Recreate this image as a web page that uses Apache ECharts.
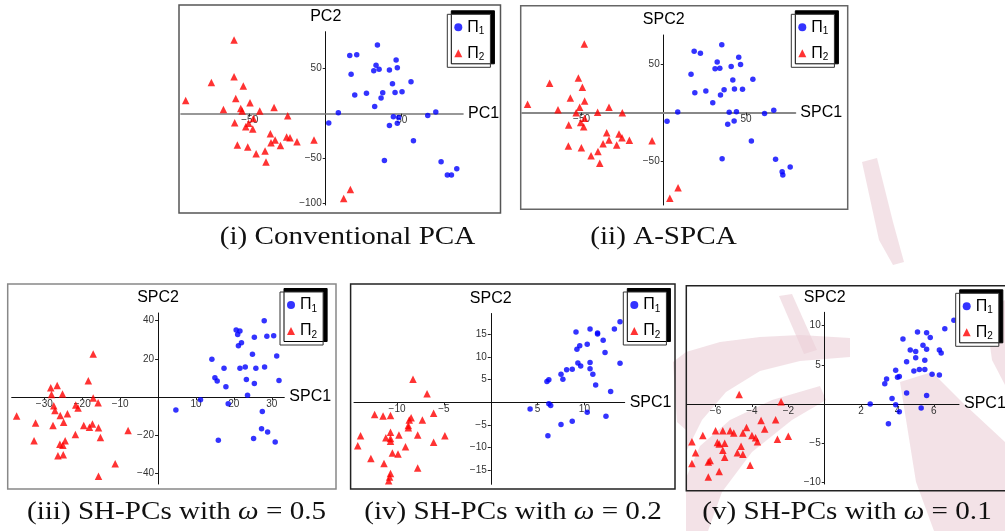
<!DOCTYPE html>
<html>
<head>
<meta charset="utf-8">
<script src="https://cdn.jsdelivr.net/npm/echarts@6/dist/echarts.min.js"></script>
<style>
  html, body { margin: 0; padding: 0; background: #fff; }
  #main { width: 1005px; height: 531px; }
</style>
</head>
<body>
<div id="main"></div>
<script>
// (i) conventional PCA
var pcaBlue = [[34.0,76.3],[15.8,64.8],[20.4,65.6],[46.3,59.6],[33.1,53.7],[35.1,49.3],[31.6,47.8],[41.9,48.5],[47.1,51.1],[16.7,43.7],[43.9,33.3],[56.1,35.6],[26.8,22.6],[19.1,20.7],[37.5,23.3],[36.4,17.4],[45.6,23.7],[50.2,24.4],[32.2,8.1],[8.3,1.1],[2.0,-10.4],[44.5,-3.3],[48.0,-4.1],[41.9,-13.0],[47.1,-10.7],[67.1,-1.9],[72.4,1.9],[57.7,-30.0],[38.6,-51.9],[75.9,-53.3],[86.2,-61.1],[80.0,-68.1],[82.7,-68.1]];
var pcaRed = [[-60.3,81.9],[-75.2,34.8],[-60.3,41.1],[-54.2,30.7],[-92.1,14.8],[-59.2,17.0],[-67.3,4.8],[-55.9,5.9],[-55.0,3.0],[-49.8,12.2],[-43.4,3.0],[-34.0,7.0],[-25.0,-2.2],[-59.9,-10.0],[-50.7,-10.7],[-52.6,-14.4],[-47.6,-5.2],[-48.0,-17.0],[-36.4,-22.2],[-36.0,-32.2],[-33.3,-29.3],[-29.8,-35.2],[-25.7,-25.9],[-23.5,-26.7],[-18.9,-31.1],[-7.7,-29.3],[-58.1,-34.8],[-51.3,-37.0],[-45.8,-44.4],[-39.9,-41.5],[-39.3,-53.7],[11.8,-94.1],[16.2,-84.1]];
var pcaXTicks = [-50, 50];
var pcaYTicks = [-100, -50, 50];

// (ii) A-SPCA
var aspcaBlue = [[35.3,70.3],[18.5,63.4],[22.3,61.4],[45.6,57.2],[32.5,52.4],[31.2,45.5],[34.1,45.9],[41.0,47.6],[46.7,49.7],[16.6,39.7],[42.0,33.8],[54.2,34.5],[25.6,22.4],[18.9,20.7],[36.7,23.8],[34.5,18.3],[43.0,24.5],[47.9,24.1],[29.8,10.3],[8.5,0.7],[2.0,-9.0],[39.8,0.3],[44.2,1.0],[38.9,-12.1],[42.8,-8.6],[61.3,-1.0],[66.9,2.4],[53.3,-29.3],[35.5,-47.6],[68.0,-48.3],[76.9,-56.2],[72.0,-61.0],[72.4,-64.5]];
var aspcaRed = [[-48.3,71.0],[-69.4,30.3],[-51.9,35.9],[-49.5,26.2],[-82.8,8.6],[-56.8,15.2],[-48.1,12.1],[-64.3,3.1],[-51.1,5.5],[-53.3,0],[-40.2,0.3],[-33.3,5.5],[-25.2,0],[-57.8,-12.8],[-50.5,-10.3],[-48.7,-14.5],[-48.1,-5.9],[-34.7,-20.7],[-33.3,-28.3],[-27.2,-22.1],[-25.4,-25.9],[-20.9,-28.6],[-7.1,-29.0],[-36.9,-32.1],[-28.6,-33.4],[-58.0,-34.5],[-50.1,-36.2],[-40.0,-40.3],[-44.2,-44.5],[-38.9,-52.4],[3.7,-88.6],[8.7,-77.6]];
var aspcaXTicks = [-50, 50];
var aspcaYTicks = [-50, 50];

// (iii) SH-PCs, w = 0.5
var sh05Blue = [[28.0,39.9],[20.6,35.0],[21.6,34.5],[21.0,32.7],[25.4,31.2],[28.7,31.7],[30.5,32.0],[22.0,28.4],[21.2,26.8],[24.9,22.3],[31.3,21.4],[14.2,19.8],[17.4,15.1],[21.6,15.1],[23.0,15.7],[25.8,15.1],[28.1,15.7],[15.0,10.1],[15.6,8.4],[23.3,9.2],[25.4,7.1],[31.9,8.7],[17.9,5.4],[23.6,1.0],[11.2,-1.4],[18.5,-3.5],[4.7,-6.8],[27.5,-7.5],[27.3,-16.5],[28.9,-18.3],[25.2,-21.6],[15.9,-22.6],[30.9,-23.5]];
var sh05Red = [[-17.1,22.5],[-18.4,8.5],[-28.3,4.9],[-26.6,6.1],[-28.1,1.4],[-25.2,1.6],[-17.1,-0.5],[-15.8,-3.0],[-27.5,-4.5],[-21.7,-4.2],[-21.1,-5.7],[-27.2,-7.0],[-37.3,-9.9],[-25.8,-9.6],[-23.9,-8.7],[-32.3,-13.6],[-27.7,-14.8],[-24.9,-13.2],[-19.6,-14.8],[-18.1,-15.8],[-17.3,-14.1],[-15.7,-16.0],[-7.9,-17.4],[-21.8,-19.5],[-24.5,-22.8],[-15.2,-21.1],[-32.7,-22.8],[-25.9,-24.7],[-25.1,-25.1],[-26.4,-30.6],[-25.0,-30.1],[-11.3,-34.8],[-15.7,-41.3]];
var sh05XTicks = [-30, -20, -10, 10, 20, 30];
var sh05YTicks = [-40, -20, 20, 40];

// (iv) SH-PCs, w = 0.2
var sh02Blue = [[13.8,17.8],[13.2,16.2],[9.1,15.5],[10.6,16.2],[11.4,15.3],[11.4,15.1],[12.0,13.7],[10.3,12.8],[9.5,12.5],[9.2,11.7],[12.2,11.0],[9.3,8.7],[9.6,8.0],[10.6,8.8],[13.8,8.6],[7.5,6.2],[8.1,7.2],[8.7,7.3],[10.6,7.4],[10.9,6.2],[7.7,5.1],[6.2,5.0],[6.0,4.6],[11.2,3.8],[12.8,2.4],[6.2,-0.3],[6.4,-0.7],[4.2,-1.5],[10.3,-2.2],[12.3,-3.1],[8.7,-4.2],[7.5,-4.9],[6.1,-7.4]];
var sh02Red = [[-8.3,5.1],[-6.8,1.9],[-12.4,-2.7],[-11.5,-3.0],[-10.7,-2.9],[-8.5,-3.4],[-6.1,-2.4],[-7.3,-3.9],[-8.7,-3.9],[-8.8,-5.1],[-8.8,-5.6],[-10.7,-6.6],[-9.8,-7.2],[-7.8,-7.2],[-4.9,-7.4],[-13.9,-7.4],[-11.2,-7.8],[-10.7,-8.0],[-10.7,-8.6],[-6.1,-8.8],[-14.2,-9.6],[-9.1,-9.8],[-10.5,-11.2],[-9.9,-11.4],[-12.8,-12.4],[-11.4,-13.5],[-7.8,-14.5],[-10.7,-15.7],[-10.8,-16.5],[-10.9,-17.3]];
var sh02XTicks = [-10, -5, 5, 10];
var sh02YTicks = [-15, -10, -5, 5, 10, 15];

// (v) SH-PCs, w = 0.1
var sh01Blue = [[7.1,10.7],[6.6,9.6],[5.1,9.2],[5.6,9.1],[5.8,8.5],[4.3,8.3],[5.4,7.5],[5.6,7.0],[4.7,6.9],[5.0,6.7],[6.3,6.9],[6.4,6.5],[5.0,5.9],[4.5,5.4],[5.5,5.6],[3.9,4.3],[4.9,4.2],[5.2,4.4],[5.5,4.4],[5.9,3.8],[6.3,3.7],[4.1,3.5],[4.0,3.4],[3.4,3.2],[3.3,2.6],[4.5,1.4],[5.6,1.1],[3.7,0.7],[2.5,0],[3.9,-0.1],[4.1,-1.0],[5.3,-0.5],[3.5,-2.5]];
var sh01Red = [[-4.7,1.2],[-2.4,0.3],[-3.5,-2.1],[-2.7,-2.0],[-3.3,-3.2],[-4.3,-3.0],[-4.5,-3.7],[-6.0,-3.4],[-5.6,-3.4],[-5.2,-3.4],[-5.0,-3.7],[-6.7,-4.0],[-4.0,-4.0],[-3.8,-4.3],[-3.7,-4.8],[-2.6,-4.5],[-2.0,-4.1],[-7.3,-4.8],[-5.9,-4.9],[-5.8,-5.1],[-5.5,-5.0],[-4.6,-5.4],[-5.6,-5.9],[-4.8,-6.2],[-4.5,-6.4],[-7.1,-6.2],[-5.5,-6.8],[-6.3,-7.2],[-6.4,-7.4],[-7.3,-7.6],[-4.1,-7.8],[-5.8,-8.6],[-6.4,-9.3]];
var sh01XTicks = [-6, -4, -2, 2, 4, 6];
var sh01YTicks = [-10, -5, 5, 10];

var captions = ['(i) Conventional PCA', '(ii) A-SPCA', '(iii) SH-PCs with {w|ω} = 0.5', '(iv) SH-PCs with {w|ω} = 0.2', '(v) SH-PCs with {w|ω} = 0.1'];

// layout of the five panels (pixels)
var panels = [
  { grid: [181, 31.7, 282, 173.3], x: [-95.2, 90.3], y: [-101.4, 91.1], names: ['PC1', 'PC2'],
    blue: pcaBlue, red: pcaRed, xt: pcaXTicks, yt: pcaYTicks,
    frame: [179, 5, 321.5, 208], frameColor: '#555', xLine: ['#777', 1.6], legend: [447.3, 14.3], cap: [347.5, 237] },
  { grid: [522, 35, 273.3, 170], x: [-86.2, 80.0], y: [-95.5, 80.3], names: ['SPC1', 'SPC2'],
    blue: aspcaBlue, red: aspcaRed, xt: aspcaXTicks, yt: aspcaYTicks,
    frame: [520.7, 5.7, 327, 203.5], frameColor: '#666', xLine: ['#888', 2], legend: [791.3, 14.3], cap: [663.5, 237] },
  { grid: [11.7, 313, 272.6, 171], x: [-38.6, 33.3], y: [-45.4, 43.9], names: ['SPC1', 'SPC2'],
    blue: sh05Blue, red: sh05Red, xt: sh05XTicks, yt: sh05YTicks,
    frame: [7.7, 284, 328.3, 205], frameColor: '#888', xLine: ['#111', 1], legend: [280, 292], cap: [176.5, 512] },
  { grid: [354, 313.5, 270.7, 170.8], x: [-14.6, 14.3], y: [-18.1, 19.6], names: ['SPC1', 'SPC2'],
    blue: sh02Blue, red: sh02Red, xt: sh02XTicks, yt: sh02YTicks,
    frame: [350.6, 284, 324.4, 205], frameColor: '#222', xLine: ['#111', 1], legend: [623.3, 292], cap: [513, 512] },
  { grid: [687, 312.3, 272, 171.7], x: [-7.57, 7.38], y: [-10.2, 11.7], names: ['SPC1', 'SPC2'],
    blue: sh01Blue, red: sh01Red, xt: sh01XTicks, yt: sh01YTicks,
    frame: [686.3, 285.7, 330, 205], frameColor: '#222', xLine: ['#111', 1], legend: [955.7, 293.3], cap: [847, 512] }
];

function tickFmt(v) {
  return String(v).replace('-', '\u2212');
}

// distance (px) from the grid's bottom edge up to y = 0, and from left edge to x = 0
function zeroOffsets(p) {
  var g = p.grid;
  var fromBottom = g[3] * (0 - p.y[0]) / (p.y[1] - p.y[0]);
  var fromLeft = g[2] * (0 - p.x[0]) / (p.x[1] - p.x[0]);
  return { x: -fromBottom, y: -fromLeft };
}

var chart = echarts.init(document.getElementById('main'), null, { renderer: 'canvas' });

// faint pink watermark behind the last panel
var pink = 'rgba(236, 208, 217, 0.62)';
var watermark = [
  [[862,162],[877,158],[893,222],[904,262],[893,265],[879,240]],
  [[779,296],[792,294],[817,350],[804,354]],
  [[686,352],[720,342],[760,337],[800,335],[850,338],[850,357],[800,361],[760,371],[726,392],[702,420],[686,452]],
  [[686,478],[700,446],[730,420],[772,400],[820,386],[826,400],[792,420],[752,452],[722,492],[708,531],[686,531]],
  [[900,382],[932,372],[962,402],[1005,442],[1005,531],[934,531],[916,482]],
  [[985,310],[1005,300],[1005,385],[992,360]],
  [[673,362],[686,352],[686,430],[677,422]]
];

var graphics = [];
watermark.forEach(function (pts) {
  graphics.push({ type: 'polygon', silent: true, z: -10, shape: { points: pts }, style: { fill: pink } });
});
panels.forEach(function (p, i) {
  graphics.push({
    type: 'rect', silent: true, z: 0,
    shape: { x: p.frame[0], y: p.frame[1], width: p.frame[2], height: p.frame[3] },
    style: { fill: 'none', stroke: p.frameColor, lineWidth: 1.5 }
  });
  graphics.push({
    type: 'text', silent: true, x: p.cap[0], y: p.cap[1], scaleX: 1.12,
    style: {
      text: captions[i], fill: '#111',
      font: '26px "Liberation Serif"', textAlign: 'center', textVerticalAlign: 'middle',
      rich: { w: { fontFamily: 'Liberation Serif', fontSize: 26, fontStyle: 'italic' } }
    }
  });
});

var option = {
  animation: false,
  backgroundColor: '#fff',
  grid: panels.map(function (p) {
    return { left: p.grid[0], top: p.grid[1], width: p.grid[2], height: p.grid[3], outerBoundsMode: 'none', containLabel: false };
  }),
  xAxis: panels.map(function (p, i) {
    return {
      gridIndex: i, type: 'value', min: p.x[0], max: p.x[1],
      position: 'bottom', offset: zeroOffsets(p).x,
      name: p.names[0], nameLocation: 'end', nameGap: 5,
      nameTextStyle: { fontFamily: 'Liberation Sans', fontSize: 16, color: '#000' },
      axisLine: { onZero: false, lineStyle: { color: p.xLine[0], width: p.xLine[1] } },
      axisTick: { show: true, length: 3, customValues: p.xt, lineStyle: { color: '#222' } },
      axisLabel: { customValues: p.xt, margin: 2, fontFamily: 'Liberation Sans', fontSize: 10, color: '#333', formatter: tickFmt },
      splitLine: { show: false }
    };
  }),
  yAxis: panels.map(function (p, i) {
    return {
      gridIndex: i, type: 'value', min: p.y[0], max: p.y[1],
      position: 'left', offset: zeroOffsets(p).y,
      name: p.names[1], nameLocation: 'end', nameGap: 7,
      nameTextStyle: { fontFamily: 'Liberation Sans', fontSize: 16, color: '#000', align: 'center' },
      axisLine: { onZero: false, lineStyle: { color: '#111', width: 1 } },
      axisTick: { show: true, length: 3, customValues: p.yt, lineStyle: { color: '#222' } },
      axisLabel: { customValues: p.yt, margin: 4, fontFamily: 'Liberation Sans', fontSize: 10, color: '#333', formatter: tickFmt },
      splitLine: { show: false }
    };
  }),
  legend: panels.map(function (p) {
    return {
      orient: 'vertical', left: p.legend[0], top: p.legend[1],
      data: [{ name: 'Π1', icon: 'circle' }, { name: 'Π2', icon: 'triangle' }],
      itemWidth: 8, itemHeight: 8, itemGap: 9,
      padding: [5, 6, 5, 7],
      backgroundColor: '#fff', borderColor: '#333', borderWidth: 1,
      shadowColor: '#000', shadowBlur: 0, shadowOffsetX: 4, shadowOffsetY: -3.5,
      selectedMode: false,
      formatter: function (n) { return '{p|Π}{s|' + n.slice(1) + '}'; },
      textStyle: {
        rich: {
          p: { fontFamily: 'Liberation Sans', fontSize: 16, color: '#000', lineHeight: 18 },
          s: { fontFamily: 'Liberation Sans', fontSize: 10, color: '#000', lineHeight: 10, verticalAlign: 'bottom' }
        }
      }
    };
  }),
  graphic: graphics,
  series: []
};

panels.forEach(function (p, i) {
  option.series.push({
    name: 'Π1', type: 'scatter', xAxisIndex: i, yAxisIndex: i,
    symbol: 'circle', symbolSize: 5.5, data: p.blue,
    itemStyle: { color: '#0000ff' }
  });
  option.series.push({
    name: 'Π2', type: 'scatter', xAxisIndex: i, yAxisIndex: i,
    symbol: 'triangle', symbolSize: 7.5, data: p.red,
    itemStyle: { color: '#ff0000' }
  });
});

chart.setOption(option);
</script>
</body>
</html>
